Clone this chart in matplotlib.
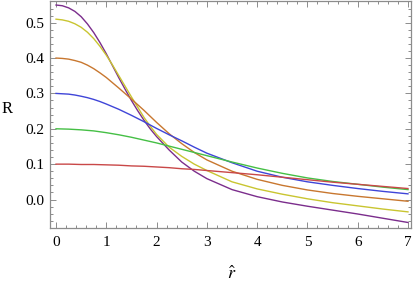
import matplotlib
matplotlib.use("Agg")
import matplotlib.pyplot as plt
from matplotlib.ticker import MultipleLocator

r = [0, 0.125, 0.25, 0.375, 0.5, 0.625, 0.75, 0.875, 1, 1.125, 1.25, 1.375,
     1.5, 1.625, 1.75, 1.875, 2, 2.25, 2.5, 2.75, 3,
     3.5, 4, 4.5, 5, 5.5, 6, 6.5, 7]

R_01 = [0.100, 0.100, 0.100, 0.0995, 0.099, 0.099, 0.099, 0.0985, 0.098, 0.0975,
        0.097, 0.096, 0.095, 0.0945, 0.094, 0.093, 0.092, 0.090, 0.087, 0.085, 0.082,
        0.076, 0.070, 0.063, 0.056, 0.049, 0.043, 0.037, 0.031]
R_02 = [0.200, 0.1995, 0.199, 0.198, 0.197, 0.1955, 0.194, 0.1915, 0.189, 0.186,
        0.183, 0.1795, 0.176, 0.172, 0.168, 0.164, 0.160, 0.151, 0.142, 0.133, 0.124,
        0.106, 0.089, 0.074, 0.061, 0.051, 0.043, 0.035, 0.028]
R_03 = [0.300, 0.299, 0.298, 0.2955, 0.292, 0.288, 0.283, 0.277, 0.270, 0.2625,
        0.255, 0.2465, 0.238, 0.229, 0.220, 0.2105, 0.201, 0.183, 0.166, 0.148, 0.131,
        0.104, 0.080, 0.063, 0.050, 0.040, 0.031, 0.023, 0.016]
R_04 = [0.400, 0.399, 0.397, 0.393, 0.388, 0.380, 0.370, 0.358, 0.345, 0.330,
        0.315, 0.2995, 0.284, 0.268, 0.252, 0.235, 0.218, 0.186, 0.158, 0.133, 0.112,
        0.080, 0.057, 0.040, 0.027, 0.017, 0.009, 0.002, -0.005]
R_05 = [0.510, 0.508, 0.504, 0.497, 0.487, 0.473, 0.455, 0.433, 0.408, 0.380,
        0.350, 0.320, 0.290, 0.261, 0.232, 0.207, 0.184, 0.148, 0.122, 0.100, 0.082,
        0.050, 0.030, 0.015, 0.002, -0.009, -0.018, -0.027, -0.035]
R_055 = [0.550, 0.548, 0.542, 0.532, 0.517, 0.4965, 0.472, 0.4435, 0.412, 0.378,
         0.344, 0.3115, 0.280, 0.251, 0.224, 0.1995, 0.178, 0.140, 0.106, 0.080, 0.059,
         0.028, 0.008, -0.007, -0.019, -0.030, -0.041, -0.053, -0.065]

curves = [R_055, R_05, R_04, R_03, R_02, R_01]
colors = ['#7b2d8c', '#c9c531', '#c8772f', '#3f45d8', '#45bf45', '#c94848']

plt.rcParams['font.family'] = ['Liberation Serif', 'DejaVu Serif']
plt.rcParams['mathtext.fontset'] = 'stix'

fig = plt.figure(figsize=(4.17, 2.85), dpi=100)
ax = fig.add_axes([50 / 417, 57 / 285, 361 / 417, 227 / 285])

for ys, c in zip(curves, colors):
    ax.plot(r, ys, color=c, linewidth=1.0)

ax.set_xlim(-0.12, 7.06)
ax.set_ylim(-0.0806, 0.5614)

ax.xaxis.set_major_locator(MultipleLocator(1))
ax.xaxis.set_minor_locator(MultipleLocator(0.2))
ax.yaxis.set_major_locator(MultipleLocator(0.1))
ax.yaxis.set_minor_locator(MultipleLocator(0.02))
ax.yaxis.set_major_formatter(plt.FuncFormatter(lambda v, p: f"{v:.1f}"))

gray = '#8c8c8c'
for s in ax.spines.values():
    s.set_color(gray)
    s.set_linewidth(0.9)
ax.tick_params(which='both', direction='in', top=True, right=True,
               color=gray, width=0.7, labelsize=11, labelcolor='black')
ax.tick_params(which='major', length=4.5)
ax.tick_params(which='minor', length=2.5)
ax.tick_params(axis='x', pad=6)
ax.tick_params(axis='y', pad=4)

ax.set_xlabel(r'$\hat{r}$', fontsize=13)
ax.xaxis.set_label_coords(0.503, -0.165)
ax.set_ylabel('R', rotation=0, fontsize=12, va='center', ha='center')
ax.yaxis.set_label_coords(-0.12, 0.525)

fig.savefig('out.png', dpi=100)
